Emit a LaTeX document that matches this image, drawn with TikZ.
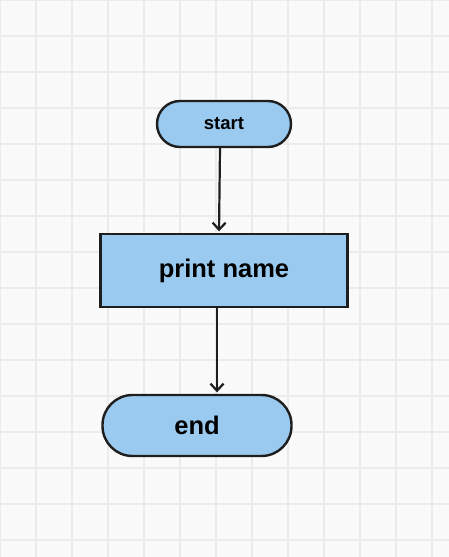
\documentclass[tikz,border=0pt]{standalone}
\usepackage{fontspec}
\setmainfont{Liberation Sans}
\usetikzlibrary{arrows.meta}
\definecolor{boxblue}{HTML}{9ACAEF}
\definecolor{ink}{HTML}{1E1E1E}
\begin{document}
\begin{tikzpicture}[x=1pt,y=-1pt,
  term/.style={draw=ink,line width=2.4pt,fill=boxblue,rounded corners=#1,inner sep=0pt,font=\bfseries},
  proc/.style={draw=ink,line width=2.4pt,fill=boxblue,inner sep=0pt,font=\bfseries},
  arr/.style={draw=ink,line width=2.2pt,-{Straight Barb[length=7pt,width=13pt,line width=2.2pt]},shorten >=1.5pt}]
 \useasboundingbox (0,0) rectangle (449,557);
 \fill[white!98!black] (0,0) rectangle (449,557);
 \draw[step=7.2pt,black!2.5,line width=0.5pt](0,0) grid (449,557);
 \draw[step=36pt,black!8,line width=2pt](0,0) grid (449,557);
 \node[term=23pt,minimum width=134pt,minimum height=46pt,font=\bfseries\fontsize{18.5}{22}\selectfont] (start) at (224,124) {start};
 \node[proc,minimum width=247pt,minimum height=73pt,font=\bfseries\fontsize{25.5}{30}\selectfont] (print) at (224,270.5) {print name};
 \node[term=30pt,minimum width=189pt,minimum height=61pt,font=\bfseries\fontsize{25.5}{30}\selectfont] (end) at (197,425.5) {end};
 \draw[arr] ([xshift=-4pt]start.south) -- ([xshift=-5pt]print.north);
 \draw[arr] ([xshift=-7pt]print.south) -- ([xshift=20pt]end.north);
\end{tikzpicture}
\end{document}
